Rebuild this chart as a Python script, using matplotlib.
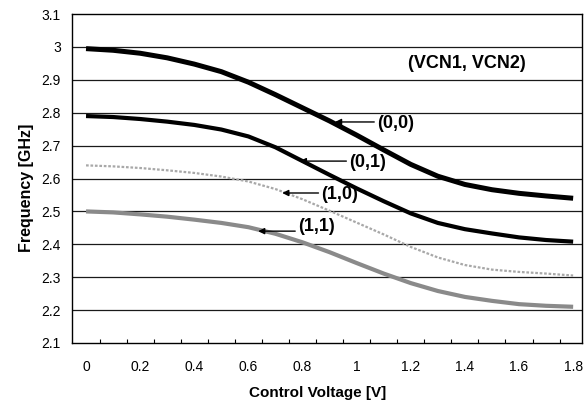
import numpy as np
import matplotlib.pyplot as plt

plt.rcParams['font.family'] = ['Liberation Sans', 'DejaVu Sans']

# control voltage [V]
v = [0.0, 0.1, 0.2, 0.3, 0.4, 0.5, 0.6, 0.7, 0.8, 0.9,
     1.0, 1.1, 1.2, 1.3, 1.4, 1.5, 1.6, 1.7, 1.8]

# frequency [GHz] for (VCN1, VCN2)
f00 = [2.995, 2.99, 2.981, 2.967, 2.948, 2.925, 2.893, 2.855, 2.815, 2.775,
       2.732, 2.687, 2.643, 2.607, 2.582, 2.566, 2.555, 2.547, 2.54]
f01 = [2.79, 2.787, 2.781, 2.773, 2.763, 2.749, 2.728, 2.695, 2.653, 2.611,
       2.57, 2.531, 2.494, 2.465, 2.446, 2.433, 2.421, 2.413, 2.408]
f10 = [2.64, 2.637, 2.632, 2.625, 2.617, 2.606, 2.591, 2.568, 2.537, 2.502,
       2.466, 2.43, 2.392, 2.36, 2.337, 2.323, 2.316, 2.311, 2.305]
f11 = [2.5, 2.497, 2.491, 2.484, 2.475, 2.465, 2.452, 2.432, 2.406, 2.376,
       2.343, 2.311, 2.282, 2.258, 2.24, 2.228, 2.218, 2.213, 2.21]

# labels: text, text position, arrow tip
labels = ['(0,0)', '(0,1)', '(1,0)', '(1,1)']
text_x = [1.075, 0.972, 0.869, 0.783]
text_y = [2.766, 2.650, 2.550, 2.453]
tip_x = [0.92, 0.79, 0.725, 0.636]
tip_y = [2.772, 2.653, 2.556, 2.440]

xticks = [0, 0.2, 0.4, 0.6, 0.8, 1.0, 1.2, 1.4, 1.6, 1.8]
xticklabels = ['0', '0.2', '0.4', '0.6', '0.8', '1', '1.2', '1.4', '1.6', '1.8']
yticks = [2.1, 2.2, 2.3, 2.4, 2.5, 2.6, 2.7, 2.8, 2.9, 3.0, 3.1]
yticklabels = ['2.1', '2.2', '2.3', '2.4', '2.5', '2.6', '2.7', '2.8', '2.9', '3', '3.1']

fig = plt.figure(figsize=(5.85, 4.03), dpi=100)
ax = fig.add_axes([0.123, 0.149, 0.872, 0.816])

for y in yticks[1:-1]:
    ax.axhline(y, color='#1a1a1a', lw=0.9, zorder=1)

ax.plot(v, f00, color='black', lw=3.6, solid_capstyle='butt', solid_joinstyle='round', zorder=3)
ax.plot(v, f01, color='black', lw=3.0, solid_capstyle='butt', solid_joinstyle='round', zorder=3)
ax.plot(v, f10, color='#a8a8a8', lw=1.6, ls=(0, (1.2, 0.8)), zorder=3)
ax.plot(v, f11, color='#8a8a8a', lw=3.0, solid_capstyle='butt', solid_joinstyle='round', zorder=3)

for i in range(len(labels)):
    ax.annotate('', xy=(tip_x[i], tip_y[i]), xytext=(text_x[i] - 0.01, tip_y[i]),
                arrowprops=dict(arrowstyle='-|>', color='black', lw=1.0,
                                mutation_scale=9, shrinkA=0, shrinkB=0), zorder=4)
    ax.text(text_x[i], text_y[i], labels[i], fontsize=13, fontweight='bold',
            ha='left', va='center', zorder=5)

ax.text(1.19, 2.95, '(VCN1, VCN2)', fontsize=13, fontweight='bold',
        ha='left', va='center')

ax.set_xlim(-0.052, 1.833)
ax.set_ylim(2.1, 3.1)
ax.set_xticks(xticks)
ax.set_xticklabels(xticklabels, fontsize=10)
ax.set_xticks(np.arange(0.05, 1.8, 0.1), minor=True)
ax.set_yticks(yticks)
ax.set_yticklabels(yticklabels, fontsize=10)
ax.tick_params(axis='x', which='major', length=0, pad=12)
ax.tick_params(axis='x', which='minor', direction='in', length=3, width=0.8)
ax.tick_params(axis='y', length=0, pad=8)
for s in ax.spines.values():
    s.set_linewidth(1.0)

fig.text(318 / 585, 1 - 393 / 403, 'Control Voltage [V]', fontsize=11,
         fontweight='bold', ha='center', va='center')
fig.text(26 / 585, 1 - 188 / 403, 'Frequency [GHz]', fontsize=11.5,
         fontweight='bold', ha='center', va='center', rotation=90)

plt.savefig('out.png', dpi=100)
